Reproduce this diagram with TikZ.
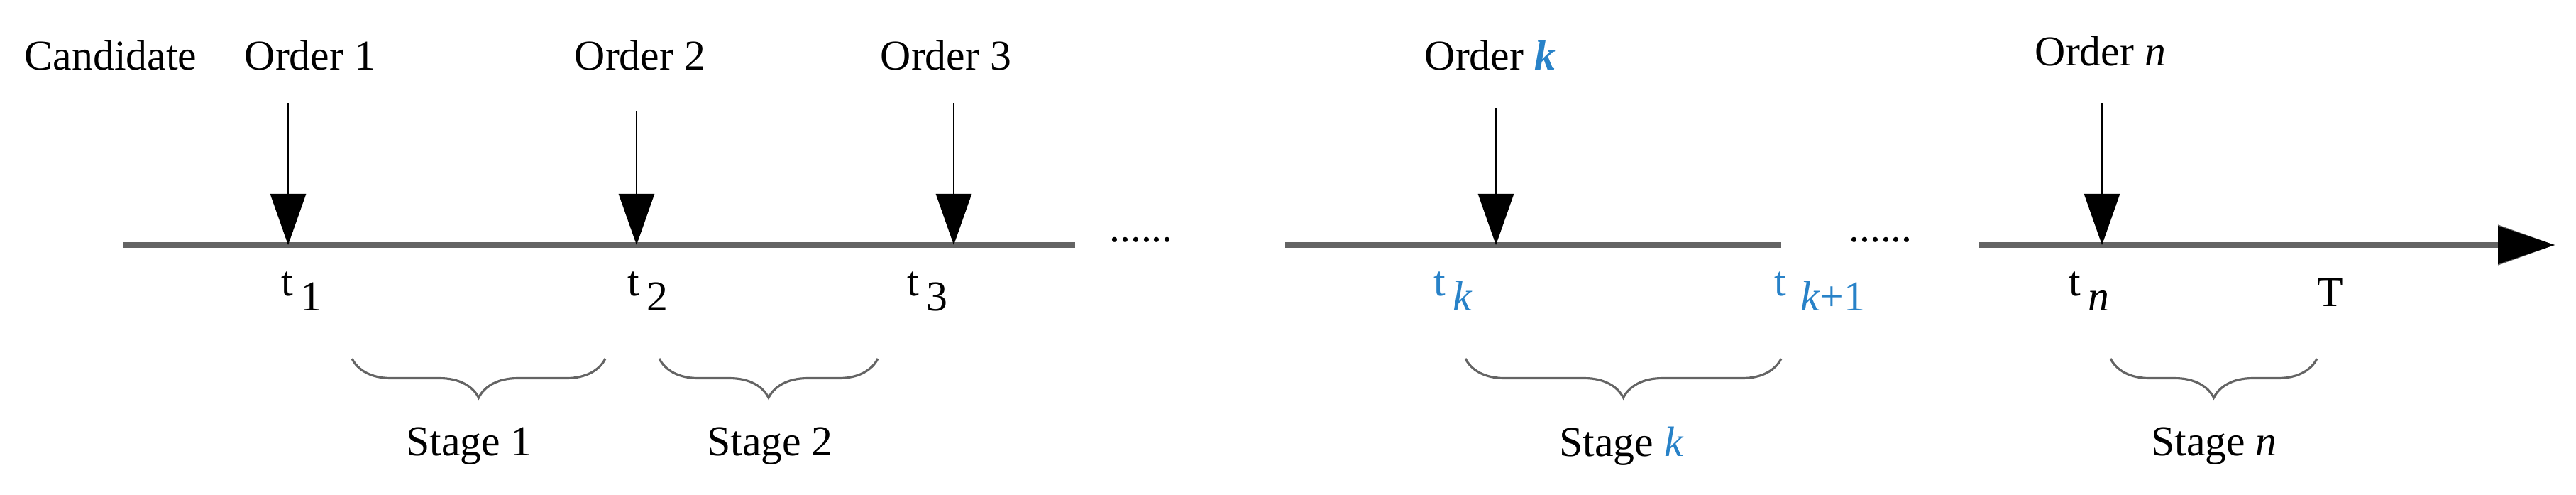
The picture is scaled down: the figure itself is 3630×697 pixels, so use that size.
\documentclass[tikz,border=0pt]{standalone}
\usepackage{fontspec}
\setmainfont{Liberation Serif}
\usetikzlibrary{arrows.meta,decorations.pathreplacing}
\definecolor{kblue}{RGB}{40,130,200}
\definecolor{axis}{RGB}{100,100,100}
\begin{document}
\begin{tikzpicture}[x=0.01cm,y=-0.01cm,
  lbl/.style={font=\fontsize{17}{20}\selectfont,inner sep=0pt},
  tl/.style={font=\fontsize{17}{20}\selectfont,inner sep=0pt,anchor=west},
  axisline/.style={axis,line width=2.3pt},
  order/.style={line width=0.8pt,-{Triangle[length=0.72cm,width=0.5cm]}},
  br/.style={decorate,decoration={brace,mirror,amplitude=0.55cm,raise=0pt},draw=axis,line width=0.9pt}]
\useasboundingbox (0,0) rectangle (3630,697);
% labels
\node[lbl] (cand) at (156,78) {Candidate};
\node[lbl] (o1) at (437,78) {Order 1};
\node[lbl] (o2) at (902,78) {Order 2};
\node[lbl] (o3) at (1333,78) {Order 3};
\node[lbl] (ok) at (2100,78) {Order \textcolor{kblue}{\textit{\textbf{k}}}};
\node[lbl] (on) at (2960,72) {Order \textit{n}};
% axis segments
\coordinate (a1) at (174,345); \coordinate (a2) at (1515,345);
\coordinate (b1) at (1811,345); \coordinate (b2) at (2510,345);
\coordinate (c1) at (2789,345); \coordinate (c2) at (3600,345);
\draw[axisline] (a1) -- (a2);
\draw[axisline] (b1) -- (b2);
\draw[axisline,-{Triangle[length=0.8cm,width=0.55cm]},color=axis] (c1) -- (c2);
\fill[black] (3520,318) -- (3600,345) -- (3520,372) -- cycle;
\node[lbl] (d1) at (1608,338) {......};
\node[lbl] (d2) at (2650,338) {......};
% order arrows
\coordinate (p1) at (406,345); \coordinate (q1) at (406,145);
\coordinate (p2) at (897,345); \coordinate (q2) at (897,157);
\coordinate (p3) at (1344,345); \coordinate (q3) at (1344,145);
\coordinate (pk) at (2108,345); \coordinate (qk) at (2108,152);
\coordinate (pn) at (2962,345); \coordinate (qn) at (2962,145);
\draw[order] (q1) -- (p1);
\draw[order] (q2) -- (p2);
\draw[order] (q3) -- (p3);
\draw[order] (qk) -- (pk);
\draw[order] (qn) -- (pn);
% t labels
\node[tl] (t1) at (396,410) {t\,\raisebox{-0.35em}{1}};
\node[tl] (t2) at (884,410) {t\,\raisebox{-0.35em}{2}};
\node[tl] (t3) at (1278,410) {t\,\raisebox{-0.35em}{3}};
\node[tl,text=kblue] (tk) at (2020,410) {t\,\raisebox{-0.35em}{\textit{k}}};
\node[tl,text=kblue] (tk1) at (2500,410) {t\,\,\raisebox{-0.35em}{\textit{k}+1}};
\node[tl] (tn) at (2915,410) {t\,\raisebox{-0.35em}{\textit{n}}};
\node[tl] (T) at (3265,412) {T};
% braces
\coordinate (s1a) at (496,505); \coordinate (s1b) at (853,505);
\coordinate (s2a) at (929,505); \coordinate (s2b) at (1237,505);
\coordinate (ska) at (2065,505); \coordinate (skb) at (2510,505);
\coordinate (sna) at (2974,505); \coordinate (snb) at (3265,505);
\draw[br] (s1a) -- (s1b);
\draw[br] (s2a) -- (s2b);
\draw[br] (ska) -- (skb);
\draw[br] (sna) -- (snb);
\node[lbl] (st1) at (661,628) {Stage 1};
\node[lbl] (st2) at (1085,628) {Stage 2};
\node[lbl] (stk) at (2285,628) {Stage \textcolor{kblue}{\textit{k}}};
\node[lbl] (stn) at (3120,628) {Stage \textit{n}};
\end{tikzpicture}
\end{document}
